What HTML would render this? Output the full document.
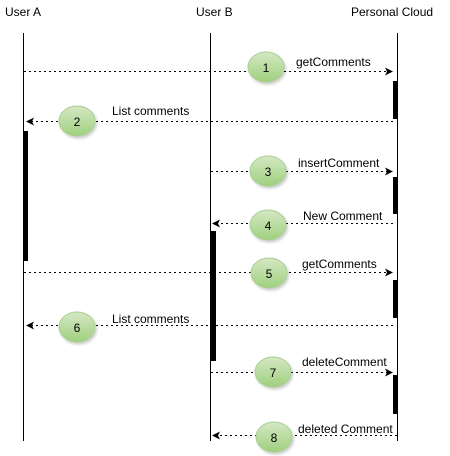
<!DOCTYPE html>
<html><head><meta charset="utf-8"><style>
html,body{margin:0;padding:0;background:#fff;}
svg{display:block;}
text{font-family:"Liberation Sans",Arial,sans-serif;font-size:12px;fill:#000;}
</style></head><body>
<svg width="450" height="456" viewBox="0 0 450 456" xmlns="http://www.w3.org/2000/svg">
<defs>
<linearGradient id="g" x1="0" y1="0" x2="0" y2="1">
<stop offset="0" stop-color="#d5e8c4"/><stop offset="1" stop-color="#9fd07e"/>
</linearGradient>
<filter id="sh" x="-30%" y="-30%" width="160%" height="160%"><feDropShadow dx="1.5" dy="2" stdDeviation="1.2" flood-color="#000" flood-opacity="0.2"/></filter>
</defs>
<text x="5" y="16">User A</text>
<text x="196" y="16">User B</text>
<text x="351" y="16">Personal Cloud</text>
<g stroke="#000" stroke-width="1">
<line x1="23.5" y1="33" x2="23.5" y2="441"/>
<line x1="210.5" y1="33" x2="210.5" y2="441"/>
<line x1="397.5" y1="33" x2="397.5" y2="441"/>
</g>
<g fill="#000">
<rect x="393" y="81" width="5" height="38"/>
<rect x="23" y="131" width="5" height="130"/>
<rect x="393" y="177" width="5" height="37"/>
<rect x="210" y="231" width="6" height="130"/>
<rect x="393" y="280" width="5" height="38"/>
<rect x="393" y="375" width="5" height="39"/>
</g>
<g stroke="#000" stroke-width="1" stroke-dasharray="2,3" fill="none">
<line x1="24" y1="71.5" x2="388" y2="71.5"/>
<line x1="393" y1="121.5" x2="32" y2="121.5"/>
<line x1="211" y1="171.5" x2="388" y2="171.5"/>
<line x1="393" y1="223.5" x2="219" y2="223.5"/>
<line x1="24" y1="272.5" x2="388" y2="272.5"/>
<line x1="393" y1="325.5" x2="32" y2="325.5"/>
<line x1="211" y1="372.5" x2="388" y2="372.5"/>
<line x1="397" y1="435.5" x2="219" y2="435.5"/>
</g>
<g fill="#000">
<path d="M393,71.5 l-8,-4 l2,4 l-2,4z"/>
<path d="M26,121.5 l8,-4 l-2,4 l2,4z"/>
<path d="M393,171.5 l-8,-4 l2,4 l-2,4z"/>
<path d="M212,223.5 l8,-4 l-2,4 l2,4z"/>
<path d="M393,272.5 l-8,-4 l2,4 l-2,4z"/>
<path d="M26,325.5 l8,-4 l-2,4 l2,4z"/>
<path d="M393,372.5 l-8,-4 l2,4 l-2,4z"/>
<path d="M212,435.5 l8,-4 l-2,4 l2,4z"/>
</g>
<g fill="url(#g)" stroke="#a9cf95" stroke-width="1" filter="url(#sh)">
<ellipse cx="266" cy="67" rx="18" ry="15"/>
<ellipse cx="77" cy="121" rx="18" ry="15"/>
<ellipse cx="268" cy="171" rx="18" ry="15"/>
<ellipse cx="268" cy="225" rx="18" ry="15"/>
<ellipse cx="269" cy="273" rx="18" ry="15"/>
<ellipse cx="77" cy="327" rx="18" ry="15"/>
<ellipse cx="273" cy="372" rx="18" ry="15"/>
<ellipse cx="274" cy="437" rx="18" ry="15"/>
</g>
<g text-anchor="middle">
<text x="266" y="72">1</text>
<text x="77" y="126">2</text>
<text x="268" y="176">3</text>
<text x="268" y="230">4</text>
<text x="269" y="278">5</text>
<text x="77" y="332">6</text>
<text x="273" y="377">7</text>
<text x="274" y="442">8</text>
</g>
<text x="296" y="66">getComments</text>
<text x="112" y="115">List comments</text>
<text x="298" y="167">insertComment</text>
<text x="303" y="220">New Comment</text>
<text x="302" y="268">getComments</text>
<text x="112" y="323">List comments</text>
<text x="302" y="366">deleteComment</text>
<text x="298" y="433">deleted Comment</text>
</svg>
</body></html>
